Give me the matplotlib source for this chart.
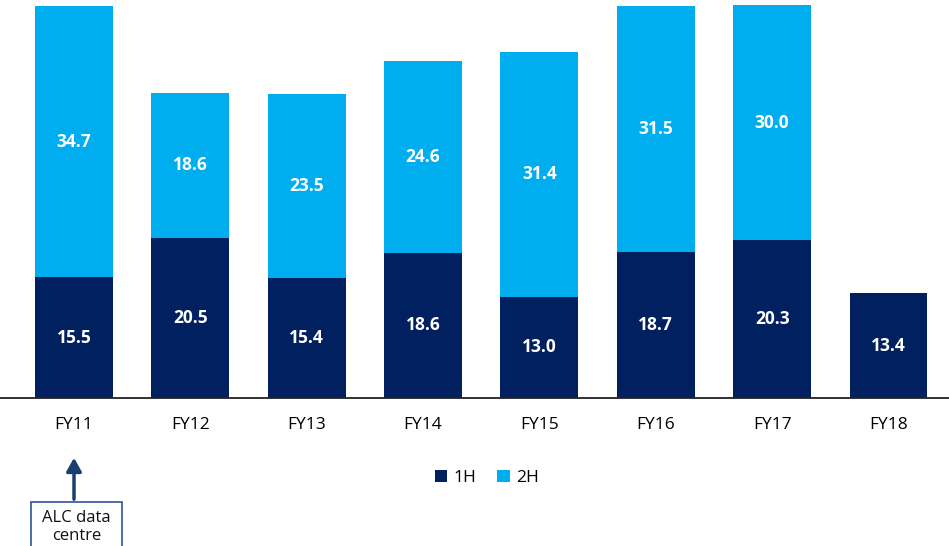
import matplotlib
matplotlib.use("Agg")
from matplotlib import pyplot as plt
from matplotlib.patches import Rectangle

years = ["FY11", "FY12", "FY13", "FY14", "FY15", "FY16", "FY17", "FY18"]
first_half = [15.5, 20.5, 15.4, 18.6, 13.0, 18.7, 20.3, 13.4]
second_half = [34.7, 18.6, 23.5, 24.6, 31.4, 31.5, 30.0, None]

DARK = "#002060"
LIGHT = "#00AEEF"

plt.rcParams['font.family'] = ['Open Sans', 'DejaVu Sans']

W, H = 949, 546
fig = plt.figure(figsize=(W / 100, H / 100), dpi=100)
ax = fig.add_axes([0, (H - 398) / H, 1, 398 / H])

x = list(range(len(years)))
b1 = ax.bar(x, first_half, width=0.67, color=DARK, label="1H")
sh_x = [i for i, v in zip(x, second_half) if v is not None]
sh_v = [v for v in second_half if v is not None]
sh_b = [first_half[i] for i in sh_x]
b2 = ax.bar(sh_x, sh_v, width=0.67, bottom=sh_b, color=LIGHT, label="2H")

# value labels in the middle of each segment
for i, v in zip(x, first_half):
    ax.text(i, v / 2, f"{v:.1f}", ha="center", va="center",
            color="white", fontsize=12.5, fontweight="bold")
for i, v, b in zip(sh_x, sh_v, sh_b):
    ax.text(i, b + v / 2, f"{v:.1f}", ha="center", va="center",
            color="white", fontsize=12.5, fontweight="bold")

ax.set_xlim(-0.636, 7.52)
ax.set_ylim(0, 51)
ax.set_yticks([])
ax.set_xticks(x)
ax.set_xticklabels(years, fontsize=12.5)
ax.tick_params(axis="x", length=0, pad=14)
for s in ["top", "left", "right"]:
    ax.spines[s].set_visible(False)
ax.spines["bottom"].set_color("#222222")
ax.spines["bottom"].set_linewidth(1.3)
ax.set_facecolor("none")

fig.legend(handles=[b1, b2], loc="center", bbox_to_anchor=(487 / W, 1 - 478 / H),
           ncol=2, frameon=False, fontsize=12.5, handlelength=0.7, handleheight=0.7,
           handletextpad=0.4, columnspacing=1.2)

# annotation: arrow up to FY11 label + clipped box
ax.annotate("", xy=(0, 1 - 455 / H), xycoords=("data", "figure fraction"),
            xytext=(0, 1 - 502 / H), textcoords=("data", "figure fraction"),
            arrowprops=dict(arrowstyle="-|>,head_length=0.8,head_width=0.45",
                            color="#1A3F6F", lw=2.5))
fig.patches.append(Rectangle((31 / W, -0.02), (122 - 31) / W, (546 - 502) / H + 0.02,
                             transform=fig.transFigure, fill=False,
                             edgecolor="#2F5597", linewidth=1.2))
fig.text(76.5 / W, 1 - 527 / H, "ALC data\ncentre", ha="center", va="center",
         fontsize=12, linespacing=1.1, color="#111111")

fig.savefig("out.png", dpi=100)
